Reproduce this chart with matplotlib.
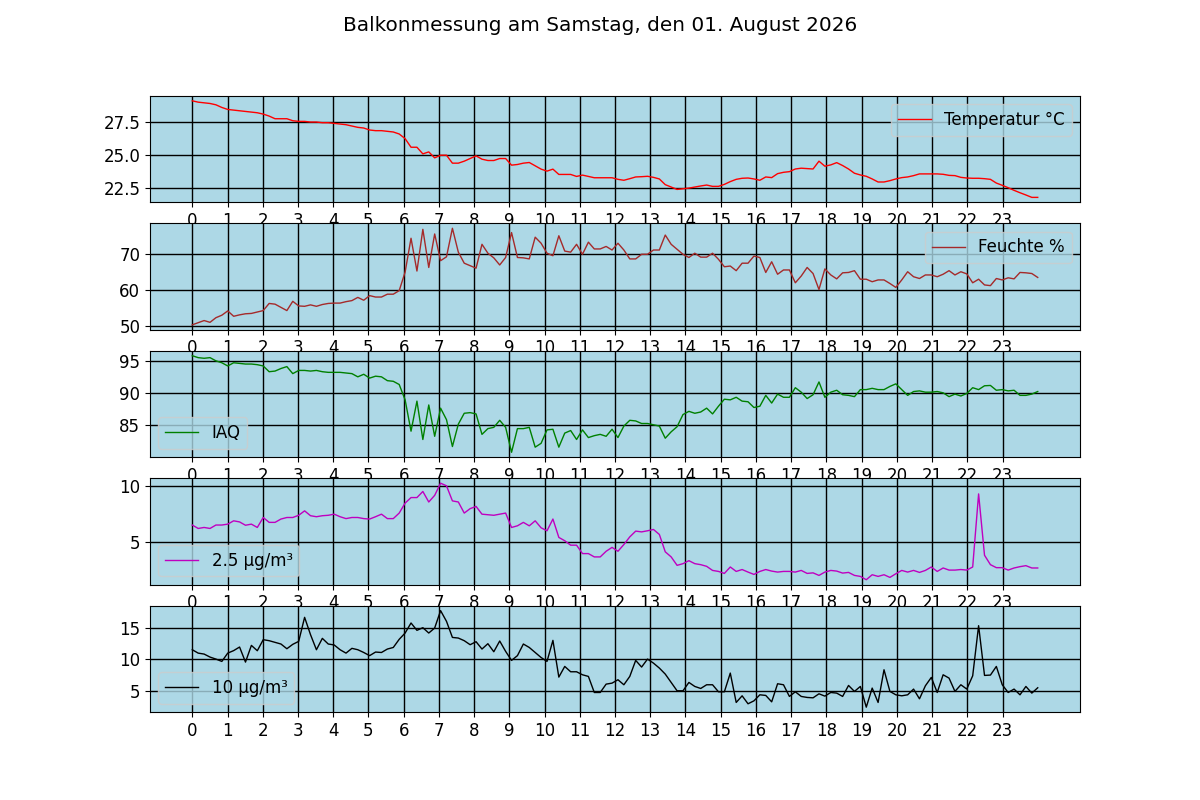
import numpy as np
import matplotlib
matplotlib.use("Agg")
import matplotlib.pyplot as plt

plt.rcParams["font.size"] = 12
plt.rcParams["axes.facecolor"] = "lightblue"

title = "Balkonmessung am Samstag, den 01. August 2026"
hour_ticks = list(range(24))
n_points = 144
hours = np.linspace(0, 24, n_points)

temperatur = [
    29.1, 29.0, 28.95, 28.9, 28.8, 28.6,
    28.45, 28.4, 28.35, 28.3, 28.25, 28.2,
    28.1, 27.95, 27.75, 27.75, 27.75, 27.6,
    27.55, 27.55, 27.5, 27.5, 27.45, 27.45,
    27.4, 27.35, 27.3, 27.2, 27.1, 27.05,
    26.9, 26.85, 26.85, 26.8, 26.75, 26.6,
    26.25, 25.6, 25.6, 25.1, 25.25, 24.8,
    25.0, 25.0, 24.4, 24.4, 24.55, 24.75,
    24.95, 24.7, 24.6, 24.6, 24.75, 24.75,
    24.25, 24.3, 24.4, 24.45, 24.2, 23.95,
    23.8, 23.95, 23.55, 23.55, 23.55, 23.4,
    23.5, 23.4, 23.3, 23.3, 23.3, 23.3,
    23.18, 23.11, 23.23, 23.36, 23.38, 23.41, 23.33, 23.21, 22.78, 22.60,
    22.42, 22.47, 22.52, 22.60, 22.68, 22.75, 22.65, 22.65, 22.80, 23.01,
    23.18, 23.26, 23.28, 23.21, 23.11, 23.36, 23.31, 23.61, 23.71, 23.76,
    23.96, 24.02, 23.99, 23.96, 24.55, 24.17, 24.27, 24.44, 24.22, 23.96,
    23.64, 23.51, 23.41, 23.21, 22.98, 22.98, 23.08, 23.21, 23.31, 23.36,
    23.46, 23.59, 23.59, 23.59, 23.59, 23.56, 23.48, 23.46, 23.33, 23.28,
    23.26, 23.26, 23.23, 23.18, 22.90, 22.73, 22.55, 22.35, 22.17, 22.00,
    21.82, 21.82,
]

feuchte = [
    50.2, 50.8, 51.4, 50.9, 52.2, 52.9,
    54.1, 52.6, 53.0, 53.3, 53.4, 53.8,
    54.2, 56.2, 56.0, 55.1, 54.2, 56.8,
    55.5, 55.4, 55.8, 55.4, 55.9, 56.2,
    56.3, 56.3, 56.7, 57.0, 57.9, 57.1,
    58.4, 58.0, 58.0, 58.8, 58.8, 59.8,
    65.0, 74.5, 65.3, 77.0, 66.3, 75.7,
    68.2, 69.3, 77.3, 70.6, 67.5, 66.8,
    66.1, 72.8, 70.3, 69.0, 67.0, 69.1,
    76.1, 69.1, 69.0, 68.7, 74.8, 73.1,
    70.3, 69.6, 75.2, 70.9, 70.6, 72.8,
    70.0, 73.4, 71.5, 71.5, 72.2, 71.2,
    73.1, 71.2, 68.7, 68.7, 70.0, 70.0, 71.2, 71.2, 75.4, 72.8,
    71.4, 70.0, 69.1, 70.3, 69.2, 69.2, 70.3, 68.6, 66.5, 66.7,
    65.4, 67.5, 67.5, 69.5, 69.1, 64.9, 67.9, 64.4, 65.6, 65.6,
    62.0, 63.9, 66.3, 64.6, 60.1, 65.9, 64.2, 63.1, 64.8, 64.9,
    65.4, 63.0, 63.0, 62.3, 62.8, 62.8, 61.8, 60.7, 62.8, 65.1,
    63.7, 63.2, 64.2, 64.2, 63.7, 64.4, 65.4, 64.2, 65.1, 64.5,
    62.0, 63.0, 61.4, 61.2, 63.2, 62.8, 63.4, 63.1, 64.9, 64.8,
    64.6, 63.5,
]

iaq = [
    95.9, 95.6, 95.5, 95.6, 95.1, 94.8,
    94.3, 94.8, 94.7, 94.6, 94.6, 94.5,
    94.3, 93.4, 93.5, 93.9, 94.2, 93.1,
    93.6, 93.6, 93.5, 93.6, 93.4, 93.3,
    93.3, 93.3, 93.2, 93.1, 92.6, 93.0,
    92.4, 92.7, 92.6, 92.0, 91.9, 91.4,
    89.0, 84.1, 88.8, 82.8, 88.2, 83.3,
    87.7, 85.9, 81.7, 85.2, 86.9, 87.0,
    86.8, 83.6, 84.5, 84.7, 85.8, 84.7,
    80.8, 84.5, 84.5, 84.7, 81.6, 82.2,
    84.3, 84.4, 81.6, 83.8, 84.2, 82.8,
    84.3, 83.1, 83.4, 83.6, 83.3, 84.4,
    83.1, 84.9, 85.8, 85.7, 85.3, 85.3, 85.1, 84.9, 83.0, 84.0,
    84.8, 86.7, 87.2, 86.9, 87.1, 87.7, 86.8, 88.0, 89.1, 89.0,
    89.4, 88.8, 88.7, 87.8, 88.0, 89.7, 88.5, 89.9, 89.4, 89.4,
    90.9, 90.2, 89.2, 89.8, 91.8, 89.4, 90.2, 90.5, 89.8, 89.7,
    89.5, 90.6, 90.6, 90.8, 90.6, 90.6, 91.1, 91.5, 90.6, 89.7,
    90.3, 90.4, 90.2, 90.2, 90.3, 90.1, 89.5, 89.9, 89.6, 90.0,
    90.9, 90.6, 91.2, 91.25, 90.5, 90.6, 90.4, 90.5, 89.7, 89.7,
    89.9, 90.3,
]

pm25 = [
    6.52, 6.21, 6.3, 6.21, 6.52, 6.52,
    6.6, 6.9, 6.8, 6.5, 6.6, 6.3,
    7.2, 6.76, 6.76, 7.06, 7.2, 7.2,
    7.4, 7.8, 7.36, 7.27, 7.36, 7.4,
    7.5, 7.27, 7.1, 7.2, 7.2, 7.1,
    7.06, 7.27, 7.5, 7.1, 7.1, 7.6,
    8.5, 9.0, 9.0, 9.55, 8.6, 9.2,
    10.3, 10.06, 8.7, 8.6, 7.6, 8.0,
    8.2, 7.5, 7.45, 7.4, 7.5, 7.6,
    6.3, 6.45, 6.76, 6.45, 6.9, 6.27,
    6.0, 7.06, 5.4, 5.1, 4.7, 4.7,
    3.94, 3.94, 3.64, 3.64, 4.15, 4.5,
    4.15, 4.76, 5.45, 5.97, 5.9, 6.0, 6.12, 5.67, 4.1, 3.64,
    2.88, 3.03, 3.3, 3.03, 2.94, 2.79, 2.42, 2.33, 2.15, 2.73,
    2.33, 2.5, 2.27, 2.06, 2.33, 2.5, 2.36, 2.27, 2.33, 2.33,
    2.27, 2.42, 2.15, 2.2, 1.97, 2.27, 2.42, 2.36, 2.18, 2.24,
    1.97, 1.88, 1.58, 2.03, 1.88, 2.03, 1.79, 2.12, 2.42, 2.27,
    2.42, 2.24, 2.42, 2.73, 2.33, 2.64, 2.45, 2.45, 2.5, 2.45,
    2.73, 9.33, 3.79, 2.94, 2.67, 2.67, 2.45, 2.64, 2.76, 2.85,
    2.64, 2.64,
]

pm10 = [
    11.54, 11.0, 10.85, 10.37, 10.05, 9.68,
    11.0, 11.4, 11.97, 9.57, 12.23, 11.38,
    13.14, 12.98, 12.71, 12.45, 11.7, 12.4,
    12.87, 16.7, 13.94, 11.54, 13.35, 12.45,
    12.3, 11.54, 11.0, 11.76, 11.54, 11.1,
    10.6, 11.17, 11.1, 11.65, 11.9, 13.2,
    14.2, 15.8, 14.63, 15.05, 14.2, 15.0,
    17.77, 16.06, 13.5, 13.4, 12.98, 12.34,
    12.82, 11.65, 12.5, 11.22, 12.93, 11.28,
    9.84, 10.6, 12.45, 11.9, 11.1, 10.3,
    9.68, 13.03, 7.18, 8.88, 8.03, 8.03,
    7.55, 7.29, 4.73, 4.73, 6.06, 6.22,
    6.76, 5.96, 7.29, 9.84, 8.78, 10.05, 9.41, 8.62, 7.66, 6.33,
    5.0, 5.0, 6.33, 5.69, 5.37, 5.96, 5.96, 4.84, 4.84, 7.82,
    3.14, 4.2, 2.93, 3.4, 4.36, 4.26, 3.24, 6.12, 5.96, 4.1,
    4.84, 4.1, 3.94, 3.88, 4.52, 4.15, 4.73, 4.63, 4.1, 5.85,
    4.9, 5.69, 2.39, 5.43, 3.14, 8.35, 4.9, 4.36, 4.2, 4.36,
    5.27, 3.72, 5.8, 7.13, 4.73, 7.55, 7.02, 4.9, 5.96, 5.27,
    7.39, 15.37, 7.45, 7.5, 8.88, 5.96, 4.73, 5.27, 4.36, 5.69,
    4.63, 5.48,
]

series = [temperatur, feuchte, iaq, pm25, pm10]
labels = ["Temperatur °C", "Feuchte %", "IAQ", "2.5 µg/m³", "10 µg/m³"]
colors = ["red", "brown", "green", "m", "black"]
yticks = [[22.5, 25.0, 27.5], [50, 60, 70], [85, 90, 95], [5, 10], [5, 10, 15]]
legend_locs = ["upper right", "upper right", "lower left", "lower left", "lower left"]

fig, axes = plt.subplots(5, 1, figsize=(12, 8), dpi=100)
fig.suptitle(title)
for ax, vals, lab, col, yt, loc in zip(axes, series, labels, colors, yticks, legend_locs):
    ax.set_facecolor("lightblue")
    ax.plot(hours, vals, color=col, linewidth=1, label=lab)
    ax.set_xticks(hour_ticks)
    ax.set_yticks(yt)
    ax.grid(True, color="black", linewidth=1)
    ax.legend(loc=loc)

fig.savefig("out.png", dpi=100)
